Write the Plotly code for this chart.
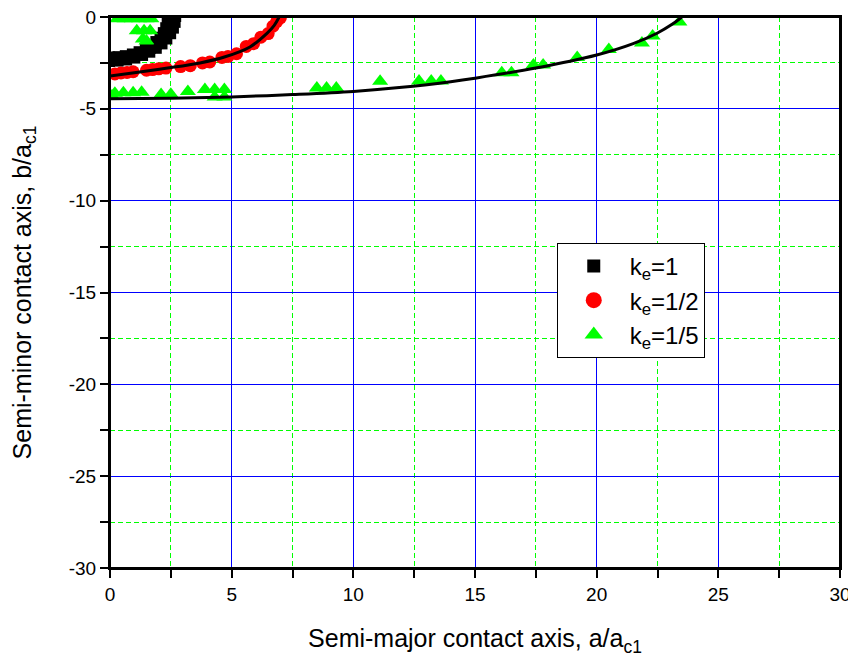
import plotly.graph_objects as go

# ---- data ----
# k_e = 1 : black squares (dense band)
sq_x = [0.0, 0.355, 0.704, 1.041, 1.36, 1.656, 1.923, 2.158, 2.356, 2.513, 2.627, 2.697, 2.72,
        0.167, 0.498, 0.820, 1.128, 1.417, 1.681, 1.917, 2.120, 2.287, 2.415, 2.501, 2.545,
        0.0, 0.307, 0.608, 0.899, 1.175, 1.431, 1.662, 1.865, 2.035, 2.171, 2.270, 2.330, 2.35]
sq_y = [-2.45, -2.429, -2.366, -2.264, -2.122, -1.944, -1.732, -1.492, -1.225, -0.938, -0.634, -0.320, 0.0,
        -2.295, -2.256, -2.178, -2.063, -1.912, -1.729, -1.516, -1.278, -1.017, -0.739, -0.449, -0.150,
        -2.15, -2.131, -2.077, -1.986, -1.862, -1.706, -1.520, -1.309, -1.075, -0.823, -0.556, -0.281, 0.0]
fit1_x = [0.0, 0.52, 0.94, 1.32, 1.67, 1.97, 2.21, 2.38, 2.48, 2.50]
fit1_y = [-2.30, -2.25, -2.13, -1.95, -1.71, -1.42, -1.08, -0.71, -0.32, 0.0]

# k_e = 1/2 : red circles
ci_x = [0.2, 0.45, 0.7, 0.95, 1.5, 1.75, 2.0, 2.3, 2.9, 3.3, 3.8, 4.1,
        4.6, 4.85, 5.2, 5.6, 5.9, 6.2, 6.5, 6.7, 6.85, 7.0]
ci_y = [-3.1, -3.05, -3.02, -2.98, -2.9, -2.86, -2.82, -2.78, -2.7, -2.65, -2.5, -2.45,
        -2.2, -2.15, -2.0, -1.6, -1.45, -1.1, -0.9, -0.5, -0.25, -0.05]
fit2_x = [0.0, 1.0, 2.3, 3.7, 4.7, 5.75, 6.44, 6.75, 6.95]
fit2_y = [-3.21, -3.03, -2.79, -2.5, -2.18, -1.63, -0.9, -0.45, 0.0]

# k_e = 1/5 : green triangles
tr_x = [0.08, 0.2, 0.55, 0.95, 1.3, 2.1, 2.5, 3.2, 3.9, 4.3, 4.7, 4.3, 4.7,
        8.5, 8.9, 9.3, 11.1, 12.7, 13.2, 13.6,
        16.1, 16.5, 17.4, 17.8, 19.2, 20.5, 21.86, 22.3, 23.4,
        0.3, 0.6, 0.9, 1.2, 1.5, 1.7, 1.1, 1.4, 1.65, 1.35, 1.5]
tr_y = [-4.3, -4.15, -4.12, -4.12, -4.1, -4.22, -4.2, -4.05, -3.95, -3.95, -3.95, -4.35, -4.35,
        -3.87, -3.87, -3.87, -3.5, -3.48, -3.48, -3.48,
        -3.03, -3.03, -2.61, -2.61, -2.2, -1.77, -1.42, -1.03, -0.27,
        -0.1, -0.1, -0.1, -0.1, -0.1, -0.1, -0.75, -0.75, -0.75, -1.2, -1.3]
fit3_x = [0.0, 2.5, 5.0, 7.5, 10.0, 12.0, 14.0, 15.0, 17.5, 20.0, 21.5, 22.5, 23.1, 23.5]
fit3_y = [-4.45, -4.42, -4.35, -4.22, -4.05, -3.83, -3.52, -3.33, -2.78, -2.07, -1.45, -0.87, -0.4, 0.0]

legend_names = ["k<sub>e</sub>=1", "k<sub>e</sub>=1/2", "k<sub>e</sub>=1/5"]

x_ticks = [0, 5, 10, 15, 20, 25, 30]
x_labels = ["0", "5", "10", "15", "20", "25", "30"]
y_ticks = [0, -5, -10, -15, -20, -25, -30]
y_labels = ["0", "-5", "-10", "-15", "-20", "-25", "-30"]

FONT = "Liberation Sans, Arial, sans-serif"

fig = go.Figure()
fig.add_trace(go.Scatter(x=sq_x, y=sq_y, mode="markers", showlegend=False,
                         marker=dict(symbol="square", size=10, color="black")))
fig.add_trace(go.Scatter(x=ci_x, y=ci_y, mode="markers", showlegend=False,
                         marker=dict(symbol="circle", size=13, color="#FF0000")))
fig.add_trace(go.Scatter(x=tr_x, y=tr_y, mode="markers", showlegend=False,
                         marker=dict(symbol="triangle-up", size=14, color="#00FF00")))
for fx, fy in [(fit1_x, fit1_y), (fit2_x, fit2_y), (fit3_x, fit3_y)]:
    fig.add_trace(go.Scatter(x=fx, y=fy, mode="lines", showlegend=False,
                             line=dict(color="black", width=3, shape="spline")))
# legend entries (larger symbols as in the reference legend)
for name, sym, sz, col in [(legend_names[0], "square", 13, "black"),
                           (legend_names[1], "circle", 16, "#FF0000"),
                           (legend_names[2], "triangle-up", 16, "#00FF00")]:
    fig.add_trace(go.Scatter(x=[None], y=[None], mode="markers", name=name,
                             marker=dict(symbol=sym, size=sz, color=col)))

axis_common = dict(
    showline=True, linecolor="black", linewidth=2, mirror=True,
    ticks="outside", ticklen=8, tickwidth=2, tickcolor="black",
    showgrid=True, gridcolor="#0000FF", gridwidth=1,
    zeroline=False, automargin=False, ticklabeloverflow="allow",
    tickfont=dict(family=FONT, size=19, color="black"),
    minor=dict(dtick=2.5, ticks="outside", ticklen=8, tickwidth=2, tickcolor="black",
               showgrid=True, gridcolor="#00FF00", griddash="5px,3px", gridwidth=1),
)

# page body has an 8px margin, so margins are reduced to compensate
fig.update_layout(
    width=856, height=667,
    margin=dict(l=102, r=24, t=9, b=107),
    plot_bgcolor="white", paper_bgcolor="white",
    font=dict(family=FONT, color="black"),
    xaxis=dict(range=[0, 30], tickmode="array", tickvals=x_ticks, ticktext=x_labels,
               title=dict(text="Semi-major contact axis, a/a<sub>c1</sub>",
                          font=dict(family=FONT, size=25), standoff=26),
               **axis_common),
    yaxis=dict(range=[-30, 0], tickmode="array", tickvals=y_ticks, ticktext=y_labels,
               title=dict(text="Semi-minor contact axis, b/a<sub>c1</sub>",
                          font=dict(family=FONT, size=25), standoff=30),
               **axis_common),
    legend=dict(x=0.612, y=0.590, xanchor="left", yanchor="top",
                bgcolor="white", bordercolor="black", borderwidth=1,
                itemwidth=62, font=dict(family=FONT, size=24),
                tracegroupgap=0),
    showlegend=True,
    shapes=[dict(type="rect", xref="paper", yref="paper", x0=0, x1=1, y0=0, y1=1,
                 line=dict(color="black", width=2), fillcolor="rgba(0,0,0,0)",
                 layer="above")],
)

fig.write_html("out.html")
